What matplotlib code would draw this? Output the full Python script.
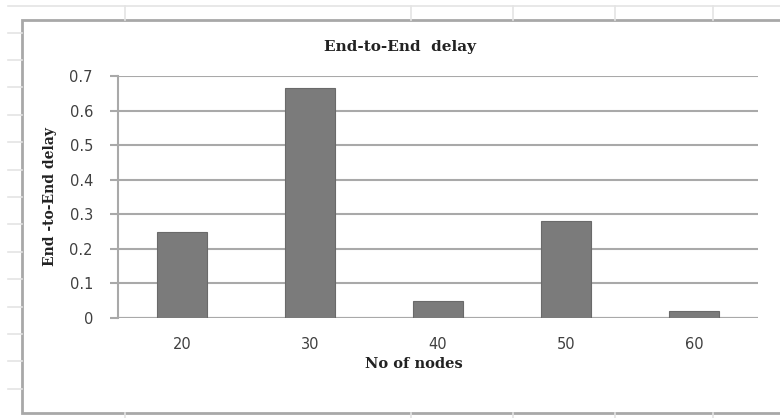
import matplotlib
matplotlib.use("Agg")
import matplotlib.pyplot as plt
from matplotlib.patches import Rectangle
from matplotlib.lines import Line2D

# Data
categories = ["20", "30", "40", "50", "60"]
delay = [0.25, 0.665, 0.05, 0.28, 0.02]
y_ticks = [0, 0.1, 0.2, 0.3, 0.4, 0.5, 0.6, 0.7]
y_tick_labels = ["0", "0.1", "0.2", "0.3", "0.4", "0.5", "0.6", "0.7"]

W, H = 780, 418
fig = plt.figure(figsize=(W / 100, H / 100), dpi=100)
fig.patch.set_facecolor("white")

def fx(px):
    return px / W

def fy(py):
    return 1 - py / H

# Spreadsheet background lines
sheet_col = "#e4e4e4"
fig.add_artist(Line2D([fx(8), 1], [fy(6), fy(6)], color=sheet_col, lw=1.2))
for x in [125, 411, 513, 615, 713]:
    fig.add_artist(Line2D([fx(x), fx(x)], [fy(6), fy(20)], color=sheet_col, lw=1.2))
    fig.add_artist(Line2D([fx(x), fx(x)], [fy(413), fy(418)], color=sheet_col, lw=1.2))
for y in [33, 60, 87, 115, 142, 170, 197, 224, 252, 279, 307, 334, 361, 389]:
    fig.add_artist(Line2D([fx(8), fx(22)], [fy(y), fy(y)], color=sheet_col, lw=1.2))

# Chart box
fig.add_artist(Rectangle((fx(22), fy(413)), fx(800) - fx(22), fy(20) - fy(413),
                         transform=fig.transFigure, facecolor="white",
                         edgecolor="#a8a8a8", lw=2.0, zorder=0))

ax = fig.add_axes([fx(118), fy(318), fx(758) - fx(118), fy(76) - fy(318)])
ax.set_facecolor("none")

x = list(range(len(categories)))
ax.bar(x, delay, width=0.39, color="#7b7b7b", edgecolor="#6a6a6a", linewidth=0.8, zorder=3)

ax.set_xlim(-0.5, len(categories) - 0.5)
ax.set_ylim(0, 0.7)
ax.set_yticks(y_ticks)
ax.set_yticklabels(y_tick_labels)
ax.set_xticks(x)
ax.set_xticklabels(categories)

grid_col = "#a9a9a9"
ax.yaxis.grid(True, color=grid_col, lw=1.5, zorder=0)
ax.set_axisbelow(True)
for s in ["top", "right", "bottom"]:
    ax.spines[s].set_visible(False)
ax.spines["left"].set_color(grid_col)
ax.spines["left"].set_linewidth(1.5)
ax.axhline(0, color=grid_col, lw=1.5, zorder=2)

ax.tick_params(axis="y", length=6, width=1.5, color=grid_col, pad=12,
               labelsize=10.5, labelcolor="#404040")
ax.tick_params(axis="x", length=0, pad=14, labelsize=10.5, labelcolor="#404040")
for lab in ax.get_xticklabels() + ax.get_yticklabels():
    lab.set_family("DejaVu Sans")

serif = "DejaVu Serif"
fig.text(fx(400), fy(47), "End-to-End  delay", ha="center", va="center",
         family=serif, weight="bold", fontsize=11, color="#222222")
fig.text(fx(50), fy(197), "End -to-End delay", ha="center", va="center",
         rotation=90, family=serif, weight="bold", fontsize=10, color="#222222")
fig.text(fx(414), fy(364), "No of nodes", ha="center", va="center",
         family=serif, weight="bold", fontsize=10.5, color="#222222")

fig.savefig("out.png", dpi=100)
